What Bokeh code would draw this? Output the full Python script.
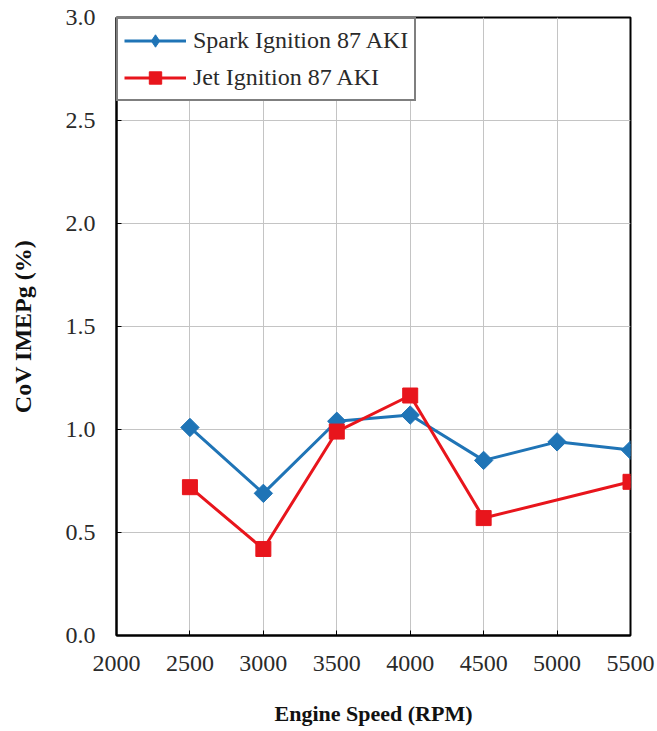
import math
from bokeh.plotting import figure
from bokeh.models import Range1d, FixedTicker, Legend, LegendItem, CustomJSTickFormatter
from bokeh.embed import file_html
from bokeh.resources import INLINE

# Engine speed (RPM) and CoV of gross IMEP (%)
rpm_spark = [2500, 3000, 3500, 4000, 4500, 5000, 5500]
cov_spark = [1.01, 0.69, 1.04, 1.07, 0.85, 0.94, 0.90]

rpm_jet = [2500, 3000, 3500, 4000, 4500, 5500]
cov_jet = [0.72, 0.42, 0.99, 1.165, 0.57, 0.746]

x_ticks = [2000, 2500, 3000, 3500, 4000, 4500, 5000, 5500]
y_ticks = [0.0, 0.5, 1.0, 1.5, 2.0, 2.5, 3.0]

series_names = ["Spark Ignition 87 AKI", "Jet Ignition 87 AKI"]

BLUE = "#1f74b6"
RED = "#e8151c"
FONT = "Liberation Serif"

p = figure(width=657, height=731, output_backend="svg", toolbar_location=None,
           x_range=Range1d(2000, 5500), y_range=Range1d(0, 3.0),
           min_border_left=116, min_border_right=27, min_border_top=17, min_border_bottom=96)

p.outline_line_color = "black"
p.outline_line_width = 2
p.background_fill_color = "white"
p.border_fill_color = "white"

for ax in (p.xaxis[0], p.yaxis[0]):
    ax.major_label_text_font = FONT
    ax.major_label_text_font_size = "24px"
    ax.major_label_text_color = "#2a2a2a"
    ax.axis_label_text_font = FONT
    ax.axis_label_text_font_style = "bold"
    ax.axis_label_text_color = "#111111"
    ax.axis_line_color = "black"
    ax.axis_line_width = 2
    ax.major_tick_in = 5
    ax.major_tick_out = 0
    ax.major_tick_line_color = "black"
    ax.major_tick_line_width = 1
    ax.minor_tick_line_color = None

p.xaxis.ticker = FixedTicker(ticks=x_ticks)
p.yaxis.ticker = FixedTicker(ticks=y_ticks)
p.yaxis.formatter = CustomJSTickFormatter(code="return tick.toFixed(1);")
p.xaxis.axis_label = "Engine Speed (RPM)"
p.yaxis.axis_label = "CoV IMEPg (%)"
p.xaxis.axis_label_text_font_size = "22px"
p.yaxis.axis_label_text_font_size = "24px"
p.xaxis.major_label_standoff = 20
p.yaxis.major_label_standoff = 21
p.xaxis.axis_label_standoff = 27
p.yaxis.axis_label_standoff = 27

p.xgrid.grid_line_color = "#c4c4c4"
p.ygrid.grid_line_color = "#c4c4c4"
p.xgrid.grid_line_width = 1
p.ygrid.grid_line_width = 1

# series lines
l1 = p.line(rpm_spark, cov_spark, line_color=BLUE, line_width=3)
l2 = p.line(rpm_jet, cov_jet, line_color=RED, line_width=3)

# small markers used as legend swatches; drawn first so the plotted
# markers cover them completely
s1 = p.scatter(rpm_spark, cov_spark, marker="diamond", size=12,
               fill_color=BLUE, line_color=BLUE)
s2 = p.scatter(rpm_jet, cov_jet, marker="square", size=11, fill_color=RED, line_color=RED)

# plotted markers
p.scatter(rpm_spark, cov_spark, marker="square", angle=math.pi / 4, size=13,
          fill_color=BLUE, line_color=BLUE)
p.scatter(rpm_jet, cov_jet, marker="square", size=15, fill_color=RED, line_color=RED)

legend = Legend(items=[LegendItem(label=series_names[0], renderers=[l1, s1]),
                       LegendItem(label=series_names[1], renderers=[l2, s2])],
                location="top_left")
legend.label_text_font = FONT
legend.label_text_font_size = "24px"
legend.label_text_color = "#2a2a2a"
legend.border_line_color = "black"
legend.border_line_width = 2
legend.margin = 0
legend.padding = 6
legend.spacing = 6
legend.glyph_width = 62
legend.glyph_height = 31
legend.label_height = 31
legend.label_standoff = 7
legend.background_fill_alpha = 1.0
p.add_layout(legend)

open("out.html", "w").write(file_html(p, INLINE))
